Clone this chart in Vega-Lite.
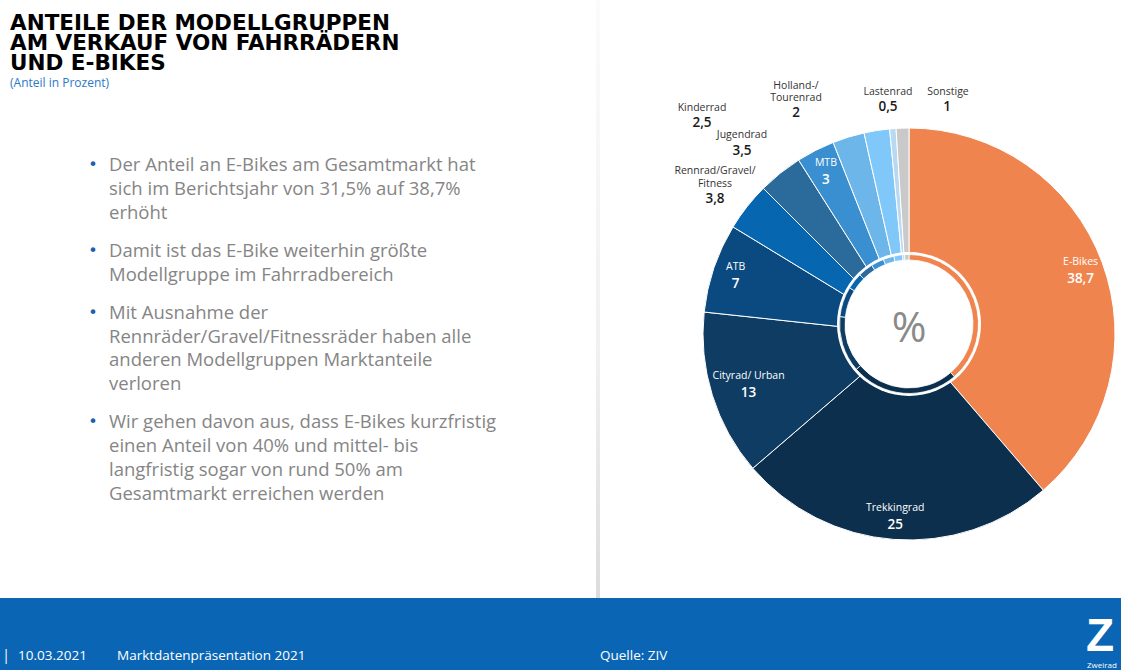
{
  "$schema": "https://vega.github.io/schema/vega-lite/v6.json",
  "width": 1121,
  "height": 670,
  "autosize": "none",
  "padding": 0,
  "background": "white",
  "config": {
    "view": {"stroke": null},
    "locale": {"number": {"decimal": ",", "thousands": ".", "grouping": [3], "currency": ["", " €"]}}
  },
  "datasets": {
    "pie": [
      {"idx": 1, "name": "E-Bikes", "value": 38.7},
      {"idx": 2, "name": "Trekkingrad", "value": 25},
      {"idx": 3, "name": "Cityrad/ Urban", "value": 13},
      {"idx": 4, "name": "ATB", "value": 7},
      {"idx": 5, "name": "Rennrad/Gravel/Fitness", "value": 3.8},
      {"idx": 6, "name": "Jugendrad", "value": 3.5},
      {"idx": 7, "name": "MTB", "value": 3},
      {"idx": 8, "name": "Kinderrad", "value": 2.5},
      {"idx": 9, "name": "Holland-/Tourenrad", "value": 2},
      {"idx": 10, "name": "Lastenrad", "value": 0.5},
      {"idx": 11, "name": "Sonstige", "value": 1}
    ],
    "one": [{}]
  },
  "layer": [
    {"data": {"name": "one"}, "mark": {"type": "rect", "x": 0, "x2": 1121, "y": 598, "y2": 670, "color": "#0A66B4"}, "encoding": {}},
    {"data": {"name": "one"}, "mark": {"type": "rect", "x": 596, "x2": 600, "y": 0, "y2": 598, "color": {"gradient": "linear", "x1": 0, "y1": 0, "x2": 0, "y2": 1, "stops": [{"offset": 0, "color": "#fbfbfb"}, {"offset": 0.6, "color": "#f0f0f0"}, {"offset": 1, "color": "#dcdcdc"}]}}, "encoding": {}},
    {"data": {"name": "one"}, "mark": {"type": "text", "x": 10, "y": 29.5, "align": "left", "baseline": "alphabetic", "font": "DejaVu Sans", "fontWeight": "bold", "fontSize": 21.5, "lineHeight": 20, "color": "#000000", "text": ["ANTEILE DER MODELLGRUPPEN", "AM VERKAUF VON FAHRRÄDERN", "UND E-BIKES"]}, "encoding": {}},
    {"data": {"name": "one"}, "mark": {"type": "text", "x": 10, "y": 87, "align": "left", "baseline": "alphabetic", "font": "Open Sans", "fontSize": 12, "color": "#2A78C8", "text": "(Anteil in Prozent)"}, "encoding": {}},

    {"data": {"name": "one"}, "mark": {"type": "text", "x": 93, "y": 165, "align": "center", "baseline": "middle", "font": "DejaVu Sans", "fontSize": 16, "color": "#1F5FAF", "text": "•"}, "encoding": {}},
    {"data": {"name": "one"}, "mark": {"type": "text", "x": 93, "y": 251, "align": "center", "baseline": "middle", "font": "DejaVu Sans", "fontSize": 16, "color": "#1F5FAF", "text": "•"}, "encoding": {}},
    {"data": {"name": "one"}, "mark": {"type": "text", "x": 93, "y": 313, "align": "center", "baseline": "middle", "font": "DejaVu Sans", "fontSize": 16, "color": "#1F5FAF", "text": "•"}, "encoding": {}},
    {"data": {"name": "one"}, "mark": {"type": "text", "x": 93, "y": 422, "align": "center", "baseline": "middle", "font": "DejaVu Sans", "fontSize": 16, "color": "#1F5FAF", "text": "•"}, "encoding": {}},
    {"data": {"name": "one"}, "mark": {"type": "text", "x": 109, "y": 171, "align": "left", "baseline": "alphabetic", "font": "Open Sans", "fontSize": 18.5, "lineHeight": 24, "color": "#858585", "text": ["Der Anteil an E-Bikes am Gesamtmarkt hat", "sich im Berichtsjahr von 31,5% auf 38,7%", "erhöht"]}, "encoding": {}},
    {"data": {"name": "one"}, "mark": {"type": "text", "x": 109, "y": 257, "align": "left", "baseline": "alphabetic", "font": "Open Sans", "fontSize": 18.5, "lineHeight": 24, "color": "#858585", "text": ["Damit ist das E-Bike weiterhin größte", "Modellgruppe im Fahrradbereich"]}, "encoding": {}},
    {"data": {"name": "one"}, "mark": {"type": "text", "x": 109, "y": 319, "align": "left", "baseline": "alphabetic", "font": "Open Sans", "fontSize": 18.5, "lineHeight": 23.7, "color": "#858585", "text": ["Mit Ausnahme der", "Rennräder/Gravel/Fitnessräder haben alle", "anderen Modellgruppen Marktanteile", "verloren"]}, "encoding": {}},
    {"data": {"name": "one"}, "mark": {"type": "text", "x": 109, "y": 428, "align": "left", "baseline": "alphabetic", "font": "Open Sans", "fontSize": 18.5, "lineHeight": 24, "color": "#858585", "text": ["Wir gehen davon aus, dass E-Bikes kurzfristig", "einen Anteil von 40% und mittel- bis", "langfristig sogar von rund 50% am", "Gesamtmarkt erreichen werden"]}, "encoding": {}},

    {"data": {"name": "one"}, "mark": {"type": "text", "x": 6, "y": 660, "align": "center", "baseline": "alphabetic", "font": "Open Sans", "fontSize": 14, "color": "white", "text": "|"}, "encoding": {}},
    {"data": {"name": "one"}, "mark": {"type": "text", "x": 18, "y": 660, "align": "left", "baseline": "alphabetic", "font": "Open Sans", "fontSize": 13.5, "color": "white", "text": "10.03.2021"}, "encoding": {}},
    {"data": {"name": "one"}, "mark": {"type": "text", "x": 117, "y": 660, "align": "left", "baseline": "alphabetic", "font": "Open Sans", "fontSize": 13.5, "color": "white", "text": "Marktdatenpräsentation 2021"}, "encoding": {}},
    {"data": {"name": "one"}, "mark": {"type": "text", "x": 600, "y": 660, "align": "left", "baseline": "alphabetic", "font": "Open Sans", "fontSize": 13.5, "color": "white", "text": "Quelle: ZIV"}, "encoding": {}},
    {"data": {"name": "one"}, "mark": {"type": "text", "x": 1086, "y": 651, "align": "left", "baseline": "alphabetic", "font": "Liberation Sans", "fontWeight": "bold", "fontSize": 46, "color": "white", "text": "Z"}, "encoding": {}},
    {"data": {"name": "one"}, "mark": {"type": "text", "x": 1087, "y": 668, "align": "left", "baseline": "alphabetic", "font": "Open Sans", "fontSize": 8, "color": "white", "text": "Zweirad"}, "encoding": {}},

    {
      "data": {"name": "pie"},
      "mark": {"type": "arc", "outerRadius": 206, "innerRadius": 0, "stroke": "white", "strokeWidth": 1},
      "encoding": {
        "theta": {"field": "value", "type": "quantitative", "stack": true},
        "order": {"field": "idx", "type": "quantitative"},
        "color": {"field": "name", "type": "nominal", "legend": null, "scale": {
          "domain": ["E-Bikes", "Trekkingrad", "Cityrad/ Urban", "ATB", "Rennrad/Gravel/Fitness", "Jugendrad", "MTB", "Kinderrad", "Holland-/Tourenrad", "Lastenrad", "Sonstige"],
          "range": ["#EF844E", "#0B2F4D", "#0E3C62", "#0A4A80", "#0766B0", "#2A6B9C", "#3A8FD1", "#6CB6EA", "#80C7FA", "#B9D9F2", "#C9C9C9"]}},
        "x": {"value": 909},
        "y": {"value": 334}
      }
    },
    {"data": {"name": "one"}, "mark": {"type": "arc", "theta": 0, "theta2": 6.2832, "outerRadius": 72, "innerRadius": 0, "fill": "white", "x": 909, "y": 324}, "encoding": {}},
    {
      "data": {"name": "pie"},
      "mark": {"type": "arc", "outerRadius": 69.5, "innerRadius": 64, "stroke": "white", "strokeWidth": 0.8},
      "encoding": {
        "theta": {"field": "value", "type": "quantitative", "stack": true},
        "order": {"field": "idx", "type": "quantitative"},
        "color": {"field": "name", "type": "nominal", "legend": null},
        "x": {"value": 909},
        "y": {"value": 324}
      }
    },
    {"data": {"name": "one"}, "mark": {"type": "text", "x": 909, "y": 329, "align": "center", "baseline": "middle", "font": "Open Sans", "fontSize": 42, "color": "#8A8A8A", "text": "%"}, "encoding": {}},
    {
      "data": {"name": "pie"},
      "mark": {"type": "text", "radius": 183, "dy": -8, "font": "Open Sans", "fontSize": 10.5, "color": "white", "align": "center", "baseline": "middle"},
      "encoding": {
        "theta": {"field": "value", "type": "quantitative", "stack": true},
        "order": {"field": "idx", "type": "quantitative"},
        "x": {"value": 909},
        "y": {"value": 334},
        "text": {"condition": {"test": "indexof(['E-Bikes','Trekkingrad','ATB','MTB'], datum.name) >= 0", "field": "name", "type": "nominal"}, "value": ""}
      }
    },
    {
      "data": {"name": "pie"},
      "mark": {"type": "text", "radius": 183, "dy": 9, "font": "Open Sans", "fontSize": 13.5, "fontWeight": 600, "color": "white", "align": "center", "baseline": "middle"},
      "encoding": {
        "theta": {"field": "value", "type": "quantitative", "stack": true},
        "order": {"field": "idx", "type": "quantitative"},
        "x": {"value": 909},
        "y": {"value": 334},
        "text": {"condition": {"test": "indexof(['E-Bikes','Trekkingrad','ATB','MTB'], datum.name) >= 0", "field": "value", "type": "quantitative", "format": ".1~f"}, "value": ""}
      }
    },
    {
      "data": {"name": "pie"},
      "mark": {"type": "text", "radius": 168, "dy": -8, "font": "Open Sans", "fontSize": 10.5, "color": "white", "align": "center", "baseline": "middle"},
      "encoding": {
        "theta": {"field": "value", "type": "quantitative", "stack": true},
        "order": {"field": "idx", "type": "quantitative"},
        "x": {"value": 909},
        "y": {"value": 334},
        "text": {"condition": {"test": "datum.name === 'Cityrad/ Urban'", "field": "name", "type": "nominal"}, "value": ""}
      }
    },
    {
      "data": {"name": "pie"},
      "mark": {"type": "text", "radius": 168, "dy": 9, "font": "Open Sans", "fontSize": 13.5, "fontWeight": 600, "color": "white", "align": "center", "baseline": "middle"},
      "encoding": {
        "theta": {"field": "value", "type": "quantitative", "stack": true},
        "order": {"field": "idx", "type": "quantitative"},
        "x": {"value": 909},
        "y": {"value": 334},
        "text": {"condition": {"test": "datum.name === 'Cityrad/ Urban'", "field": "value", "type": "quantitative", "format": ".1~f"}, "value": ""}
      }
    },

    {"data": {"name": "one"}, "mark": {"type": "text", "x": 715, "y": 174, "align": "center", "baseline": "alphabetic", "font": "Open Sans", "fontSize": 10.5, "lineHeight": 12.5, "color": "#333333", "text": ["Rennrad/Gravel/", "Fitness"]}, "encoding": {}},
    {"data": {"name": "one"}, "mark": {"type": "text", "x": 715, "y": 203, "align": "center", "baseline": "alphabetic", "font": "Open Sans", "fontSize": 13.5, "fontWeight": 600, "color": "#1A1A1A", "text": "3,8"}, "encoding": {}},
    {"data": {"name": "one"}, "mark": {"type": "text", "x": 742, "y": 138, "align": "center", "baseline": "alphabetic", "font": "Open Sans", "fontSize": 10.5, "color": "#333333", "text": "Jugendrad"}, "encoding": {}},
    {"data": {"name": "one"}, "mark": {"type": "text", "x": 742, "y": 155, "align": "center", "baseline": "alphabetic", "font": "Open Sans", "fontSize": 13.5, "fontWeight": 600, "color": "#1A1A1A", "text": "3,5"}, "encoding": {}},
    {"data": {"name": "one"}, "mark": {"type": "text", "x": 702, "y": 110.5, "align": "center", "baseline": "alphabetic", "font": "Open Sans", "fontSize": 10.5, "color": "#333333", "text": "Kinderrad"}, "encoding": {}},
    {"data": {"name": "one"}, "mark": {"type": "text", "x": 702, "y": 126.5, "align": "center", "baseline": "alphabetic", "font": "Open Sans", "fontSize": 13.5, "fontWeight": 600, "color": "#1A1A1A", "text": "2,5"}, "encoding": {}},
    {"data": {"name": "one"}, "mark": {"type": "text", "x": 796, "y": 89, "align": "center", "baseline": "alphabetic", "font": "Open Sans", "fontSize": 10.5, "lineHeight": 12, "color": "#333333", "text": ["Holland-/", "Tourenrad"]}, "encoding": {}},
    {"data": {"name": "one"}, "mark": {"type": "text", "x": 796, "y": 116.5, "align": "center", "baseline": "alphabetic", "font": "Open Sans", "fontSize": 13.5, "fontWeight": 600, "color": "#1A1A1A", "text": "2"}, "encoding": {}},
    {"data": {"name": "one"}, "mark": {"type": "text", "x": 888, "y": 95, "align": "center", "baseline": "alphabetic", "font": "Open Sans", "fontSize": 10.5, "color": "#333333", "text": "Lastenrad"}, "encoding": {}},
    {"data": {"name": "one"}, "mark": {"type": "text", "x": 888, "y": 111, "align": "center", "baseline": "alphabetic", "font": "Open Sans", "fontSize": 13.5, "fontWeight": 600, "color": "#1A1A1A", "text": "0,5"}, "encoding": {}},
    {"data": {"name": "one"}, "mark": {"type": "text", "x": 948, "y": 95, "align": "center", "baseline": "alphabetic", "font": "Open Sans", "fontSize": 10.5, "color": "#333333", "text": "Sonstige"}, "encoding": {}},
    {"data": {"name": "one"}, "mark": {"type": "text", "x": 947, "y": 111, "align": "center", "baseline": "alphabetic", "font": "Open Sans", "fontSize": 13.5, "fontWeight": 600, "color": "#1A1A1A", "text": "1"}, "encoding": {}},

    {"data": {"name": "one"}, "mark": {"type": "rule", "x": 728, "y": 198, "x2": 737, "y2": 198, "color": "#333333", "strokeWidth": 1}, "encoding": {}},
    {"data": {"name": "one"}, "mark": {"type": "rule", "x": 737, "y": 198, "x2": 746, "y2": 207, "color": "#333333", "strokeWidth": 1}, "encoding": {}},
    {"data": {"name": "one"}, "mark": {"type": "rule", "x": 753, "y": 150, "x2": 762, "y2": 150, "color": "#333333", "strokeWidth": 1}, "encoding": {}},
    {"data": {"name": "one"}, "mark": {"type": "rule", "x": 762, "y": 150, "x2": 779, "y2": 173, "color": "#333333", "strokeWidth": 1}, "encoding": {}},
    {"data": {"name": "one"}, "mark": {"type": "rule", "x": 727, "y": 109, "x2": 732, "y2": 109, "color": "#333333", "strokeWidth": 1}, "encoding": {}},
    {"data": {"name": "one"}, "mark": {"type": "rule", "x": 732, "y": 109, "x2": 848, "y2": 136, "color": "#333333", "strokeWidth": 1}, "encoding": {}},
    {"data": {"name": "one"}, "mark": {"type": "rule", "x": 822, "y": 102, "x2": 827, "y2": 102, "color": "#333333", "strokeWidth": 1}, "encoding": {}},
    {"data": {"name": "one"}, "mark": {"type": "rule", "x": 827, "y": 102, "x2": 877, "y2": 130, "color": "#333333", "strokeWidth": 1}, "encoding": {}},
    {"data": {"name": "one"}, "mark": {"type": "rule", "x": 892, "y": 113, "x2": 892, "y2": 129, "color": "#333333", "strokeWidth": 1}, "encoding": {}},
    {"data": {"name": "one"}, "mark": {"type": "rule", "x": 928, "y": 92.5, "x2": 918, "y2": 92.5, "color": "#333333", "strokeWidth": 1}, "encoding": {}},
    {"data": {"name": "one"}, "mark": {"type": "rule", "x": 918, "y": 92.5, "x2": 903, "y2": 128, "color": "#333333", "strokeWidth": 1}, "encoding": {}}
  ]
}
